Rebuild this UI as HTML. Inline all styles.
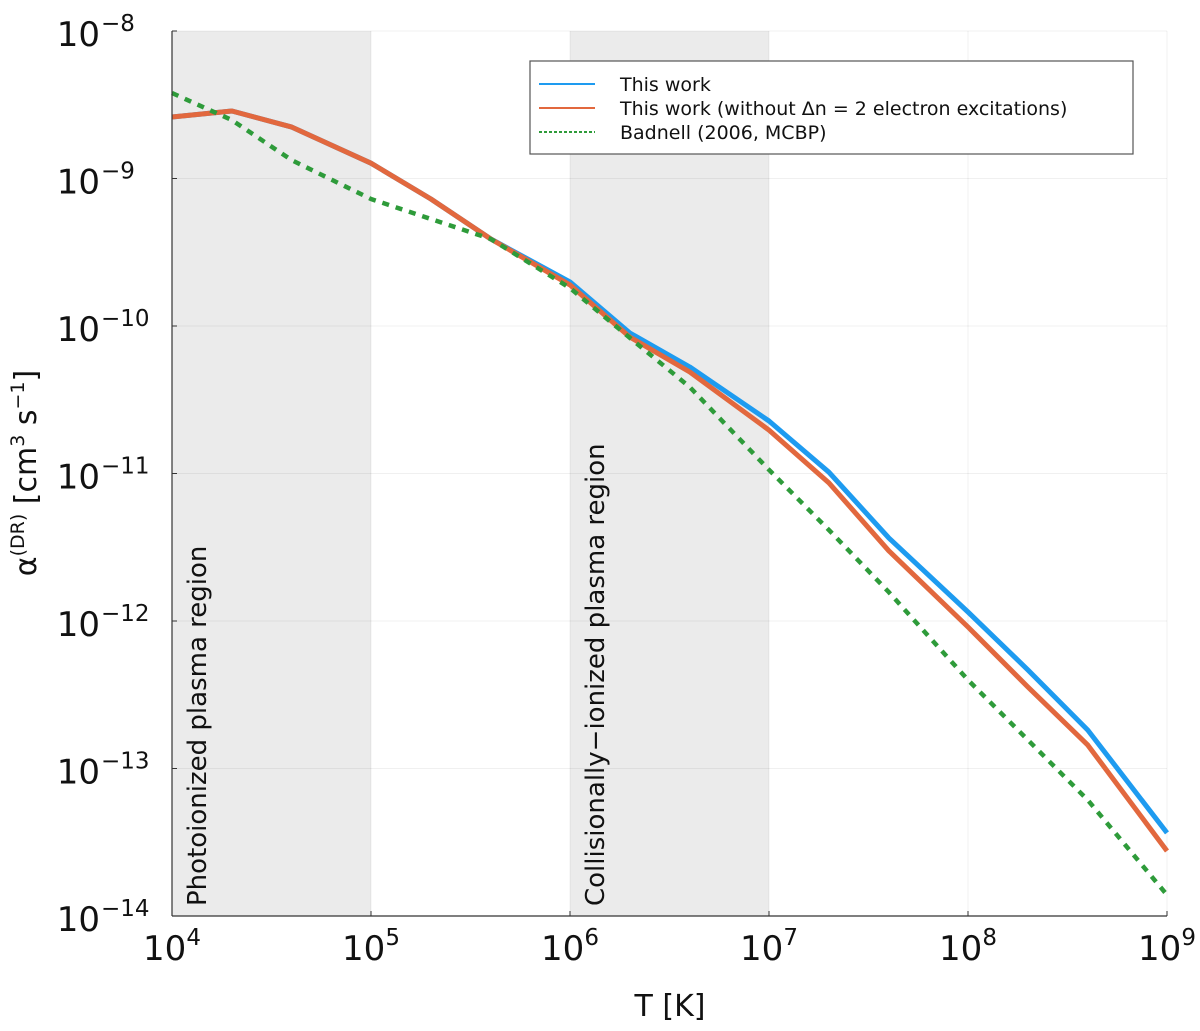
<!DOCTYPE html>
<html><head><meta charset="utf-8"><style>
body{margin:0;background:#fff;}
svg{display:block;font-family:"DejaVu Sans","Liberation Sans",sans-serif;}
</style></head><body>
<svg id="chart" width="1200" height="1031">
<g id="bg"></g><g id="grid"></g><g id="series"></g><g id="axes"></g>
</svg>
<script>
const temps=[1e4,2e4,4e4,1e5,2e5,4e5,1e6,2e6,4e6,1e7,2e7,4e7,1e8,2e8,4e8,1e9];
const thisWork=[2.61e-9,2.87e-9,2.23e-9,1.27e-9,7.26e-10,3.89e-10,1.99e-10,8.97e-11,5.27e-11,2.27e-11,1.02e-11,3.66e-12,1.15e-12,4.66e-13,1.82e-13,3.66e-14];
const noDn2=[2.61e-9,2.87e-9,2.23e-9,1.27e-9,7.26e-10,3.89e-10,1.90e-10,8.41e-11,4.88e-11,1.97e-11,8.63e-12,2.99e-12,9.10e-13,3.57e-13,1.44e-13,2.76e-14];
const badnell=[3.80e-9,2.49e-9,1.33e-9,7.26e-10,5.31e-10,3.89e-10,1.81e-10,8.30e-11,3.85e-11,1.06e-11,4.14e-12,1.57e-12,3.98e-13,1.56e-13,6.11e-14,1.39e-14];
const xTickExp=[4,5,6,7,8,9];
const yTickExp=[-8,-9,-10,-11,-12,-13,-14];
const regions=[[1e4,1e5,"Photoionized plasma region","photoionized-region"],[1e6,1e7,"Collisionally\u2212ionized plasma region","collisional-region"]];

const X0=172,X1=1167,Y0=31,Y1=916;
const xs=v=>X0+(Math.log10(v)-4)/5*(X1-X0);
const ys=v=>Y0+(-8-Math.log10(v))/6*(Y1-Y0);
const NS="http://www.w3.org/2000/svg";
function mk(tag,parent,attrs,text){const e=document.createElementNS(NS,tag);for(const k in attrs)e.setAttribute(k,attrs[k]);if(text!==undefined)e.textContent=text;document.getElementById(parent).appendChild(e);return e;}

regions.forEach(r=>{
  const e=mk('rect','bg',{x:xs(r[0]),y:Y0,width:xs(r[1])-xs(r[0]),height:Y1-Y0,fill:'#ebebeb'});
  
  
  const tx=xs(r[0])+34,ty=Y1-10;
  const t=mk('text','bg',{x:tx,y:ty,transform:`rotate(-90 ${tx} ${ty})`,'font-size':26,fill:'#111'},r[2]);
  
  
});
xTickExp.forEach(p=>{const x=xs(10**p);const g=mk('line','grid',{x1:x,x2:x,y1:Y0,y2:Y1,stroke:'#000','stroke-opacity':0.06});});
yTickExp.forEach(p=>{const y=ys(10**p);const g=mk('line','grid',{x1:X0,x2:X1,y1:y,y2:y,stroke:'#000','stroke-opacity':0.06});});

function line(vals,color,width,dash,name){
  const d=vals.map((v,i)=>(i?'L':'M')+xs(temps[i]).toFixed(1)+','+ys(v).toFixed(1)).join('');
  const a={d:d,fill:'none',stroke:color,'stroke-width':width,'stroke-linejoin':'round'};
  if(dash)a['stroke-dasharray']=dash;
  const e=mk('path','series',a);
  
  
}
line(thisWork,'#1e9bf0',5,null,'this-work-line');
line(noDn2,'#e2683e',5,null,'this-work-no-dn2-line');
line(badnell,'#2e9b3a',4.5,'7,7','badnell-line');

let e=mk('line','axes',{x1:X0,x2:X0,y1:Y0,y2:Y1,stroke:'#333','stroke-width':1.2});
e=mk('line','axes',{x1:X0,x2:X1,y1:Y1,y2:Y1,stroke:'#333','stroke-width':1.2});
xTickExp.forEach(p=>{
  const x=xs(10**p);
  const t=mk('text','axes',{x:x,y:960,'text-anchor':'middle','font-size':34,fill:'#111'});
  
  
  const b=document.createElementNS(NS,'tspan');b.textContent='10';t.appendChild(b);
  const s=document.createElementNS(NS,'tspan');s.setAttribute('dy',-15);s.setAttribute('font-size',23);s.textContent=String(p);t.appendChild(s);
  mk('line','axes',{x1:x,x2:x,y1:Y1,y2:Y1-5,stroke:'#333'});
});
yTickExp.forEach(p=>{
  const y=ys(10**p);
  const t=mk('text','axes',{x:100,y:y+15,'text-anchor':'end','font-size':34,fill:'#111'});
  
  
  const b=document.createElementNS(NS,'tspan');b.textContent='10';t.appendChild(b);
  const s=document.createElementNS(NS,'tspan');s.setAttribute('x',101);s.setAttribute('text-anchor','start');s.setAttribute('dy',-15);s.setAttribute('font-size',23);s.textContent='\u2212'+(-p);t.appendChild(s);
  mk('line','axes',{x1:X0,x2:X0+5,y1:y,y2:y,stroke:'#333'});
});
e=mk('text','axes',{x:670,y:1016,'text-anchor':'middle','font-size':30,fill:'#111'},'T [K]');

e=mk('text','axes',{x:36,y:473,'text-anchor':'middle','font-size':30,fill:'#111',transform:'rotate(-90 36 473)'});

e.innerHTML='α<tspan dy="-12" font-size="19">(DR)</tspan><tspan dy="12"> [cm</tspan><tspan dy="-12" font-size="19">3</tspan><tspan dy="12"> s</tspan><tspan dy="-12" font-size="19">−1</tspan><tspan dy="12">]</tspan>';

e=mk('rect','axes',{x:530,y:61,width:603,height:93,fill:'#fff',stroke:'#555','stroke-width':1.2});

const leg=[['This work','#1e9bf0',null],['This work (without Δn = 2 electron excitations)','#e2683e',null],['Badnell (2006, MCBP)','#2e9b3a','3,2']];
leg.forEach((l,i)=>{
  const y=84+i*24;
  const a={x1:539,x2:595,y1:y,y2:y,stroke:l[1],'stroke-width':2};if(l[2])a['stroke-dasharray']=l[2];
  mk('line','axes',a);
  const t=mk('text','axes',{x:620,y:y+7,'font-size':19,fill:'#111'},l[0]);
  
  
});
</script>
</body></html>
